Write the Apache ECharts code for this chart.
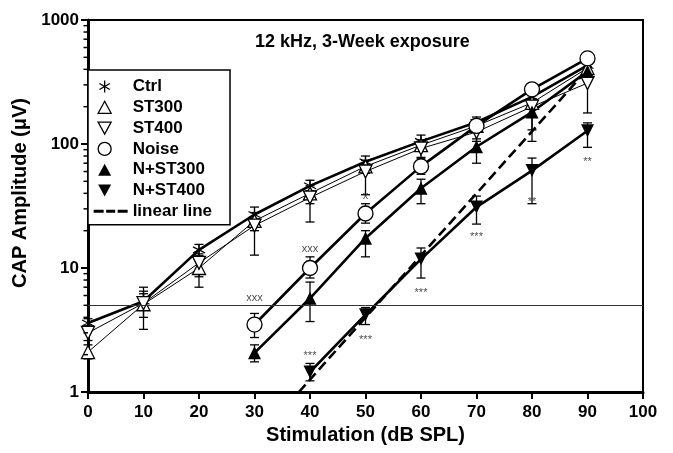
<!DOCTYPE html>
<html>
<head>
<meta charset="utf-8">
<script src="https://cdn.jsdelivr.net/npm/echarts@6/dist/echarts.min.js"></script>
<style>html,body{margin:0;padding:0;background:#fff}#c{width:673px;height:453px}</style>
</head>
<body>
<div id="c"></div>
<script>
// ---- data ----
const xLevels = [0, 10, 20, 30, 40, 50, 60, 70, 80, 90];
const ctrl    = [3.6, 5.4, 14, 27, 46, 72, 105, 150, 240, 430];
const ctrlLo  = [3.4, 4.9, 12.5, 24, 42, 65, 95, 135, 215, 400];
const ctrlHi  = [3.9, 7.0, 15.5, 31, 51, 80, 118, 165, 260, 470];
const st300   = [2.1, 5.1, 10, 24, 40, 66, 98, 140, 215, 410];
const st300Lo = [1.85, 4.0, 7.0, 20, 33, 58, 88, 125, 190, 380];
const st300Hi = [2.4, 6.2, 12.5, 28, 46, 74, 108, 155, 245, 450];
const st400   = [3.0, 5.2, 11, 22, 37, 60, 92, 125, 200, 310];
const st400Lo = [2.6, 3.2, 8.5, 12.7, 23.5, 39, 78, 105, 105, 178];
const st400Hi = [3.4, 6.5, 13, 25, 42, 66, 104, 140, 230, 360];
const noise   = [null, null, null, 3.5, 10, 27.5, 66, 140, 276, 490];
const noiseLo = [null, null, null, 2.75, 8.3, 23, 57, 125, 255, 470];
const noiseHi = [null, null, null, 4.3, 12.3, 33, 76, 158, 300, 515];
const nst300   = [null, null, null, 2.07, 5.7, 17.4, 44, 95, 181, 385];
const nst300Lo = [null, null, null, 1.75, 3.7, 12.3, 33, 70, 130, 340];
const nst300Hi = [null, null, null, 2.4, 7.7, 20, 52, 110, 210, 420];
const nst400   = [null, null, null, null, 1.45, 4.2, 11.8, 31, 61, 128];
const nst400Lo = [null, null, null, null, 1.23, 3.5, 8.3, 22.6, 33, 94];
const nst400Hi = [null, null, null, null, 1.7, 4.8, 14.5, 38, 77, 148];
const linearX = [38, 90];
const linearY = [1, 400];
const refLevel = 5;
const xTicks = [0, 10, 20, 30, 40, 50, 60, 70, 80, 90, 100];
const yTicks = [1, 10, 100, 1000];
const yMinor = [2,3,4,5,6,7,8,9,20,30,40,50,60,70,80,90,200,300,400,500,600,700,800,900];
const annX    = [30, 40, 50, 40, 50, 60, 70, 80, 90];
const annY    = [5.7, 14.2, 38, 1.95, 2.63, 6.3, 17.8, 34, 71.6];
const annText = ['xxx', 'xxx', 'x', '***', '***', '***', '***', '**', '**'];
const seriesNames = ['Ctrl', 'ST300', 'ST400', 'Noise', 'N+ST300', 'N+ST400', 'linear line'];
const titleText = '12 kHz, 3-Week exposure';

const FONT = '"Liberation Sans", Arial, sans-serif';
const pair = (ys) => xLevels.map((x, i) => ys[i] == null ? null : [x, ys[i]]).filter(Boolean);
const errRows = (lo, hi) => xLevels.map((x, i) => lo[i] == null ? null : [x, lo[i], hi[i]]).filter(Boolean);

function errRender(params, api) {
  const x = api.value(0), lo = api.value(1), hi = api.value(2);
  const p1 = api.coord([x, lo]), p2 = api.coord([x, hi]);
  const w = 4.5;
  const style = { stroke: '#000', lineWidth: 1.3, fill: null };
  return { type: 'group', children: [
    { type: 'line', shape: { x1: p1[0], y1: p1[1], x2: p2[0], y2: p2[1] }, style },
    { type: 'line', shape: { x1: p1[0] - w, y1: p1[1], x2: p1[0] + w, y2: p1[1] }, style },
    { type: 'line', shape: { x1: p2[0] - w, y1: p2[1], x2: p2[0] + w, y2: p2[1] }, style }
  ]};
}
function minorRender(params, api) {
  const p = api.coord([0, api.value(0)]);
  return { type: 'line', shape: { x1: p[0] - 4.5, y1: p[1], x2: p[0], y2: p[1] }, style: { stroke: '#000', lineWidth: 1.5 } };
}

const ASTER = 'path://M0,-10L0,10M-8.66,-5L8.66,5M-8.66,5L8.66,-5';
const errSeries = [[ctrlLo, ctrlHi], [st300Lo, st300Hi], [st400Lo, st400Hi], [noiseLo, noiseHi], [nst300Lo, nst300Hi], [nst400Lo, nst400Hi]]
  .map(([lo, hi]) => ({ type: 'custom', renderItem: errRender, data: errRows(lo, hi), z: 1, silent: true, clip: false, encode: { x: 0, y: [1, 2] } }));

const openStyle = { color: '#fff', borderColor: '#000', borderWidth: 1.3 };
const fillStyle = { color: '#000', borderColor: '#000', borderWidth: 0 };

const option = {
  animation: false,
  backgroundColor: '#fff',
  title: { text: titleText, left: 255, top: 33, padding: 0,
    textStyle: { fontFamily: FONT, fontSize: 18, fontWeight: 'bold', color: '#000' } },
  grid: { left: 88, right: 30, top: 20, bottom: 61, show: true, borderColor: '#000', borderWidth: 2 },
  legend: {
    orient: 'vertical', left: 88, top: 70, itemWidth: 34, itemHeight: 14, itemGap: 3.8,
    padding: [8, 18, 5, 5], borderColor: '#000', borderWidth: 1.5, backgroundColor: '#fff',
    selectedMode: false, symbolKeepAspect: true,
    textStyle: { fontFamily: FONT, fontSize: 17, fontWeight: 'bold', color: '#000' },
    data: [
      { name: seriesNames[0], icon: 'path://M0,0M34,14M11,1L11,13M5.8,4L16.2,10M5.8,10L16.2,4', itemStyle: { color: '#000', borderColor: '#000', borderWidth: 1.3 } },
      { name: seriesNames[1], icon: 'path://M0,0M34,14M11,1L17.5,13L4.5,13Z', itemStyle: openStyle },
      { name: seriesNames[2], icon: 'path://M0,0M34,14M4.5,1L17.5,1L11,13Z', itemStyle: openStyle },
      { name: seriesNames[3], icon: 'path://M0,0M34,14M17.5,7A6.5,6.5 0 1 1 4.5,7A6.5,6.5 0 1 1 17.5,7Z', itemStyle: openStyle },
      { name: seriesNames[4], icon: 'path://M0,0M34,14M11,1L17.5,13L4.5,13Z', itemStyle: fillStyle },
      { name: seriesNames[5], icon: 'path://M0,0M34,14M4.5,1L17.5,1L11,13Z', itemStyle: fillStyle },
      { name: seriesNames[6], icon: 'path://M0,0M34,14M0,5.5h10v3h-10zM12.5,5.5h9v3h-9zM24,5.5h10v3h-10z', itemStyle: fillStyle }
    ]
  },
  xAxis: {
    type: 'value', min: xTicks[0], max: xTicks[xTicks.length - 1], interval: 10,
    name: 'Stimulation (dB SPL)', nameLocation: 'middle', nameGap: 33,
    nameTextStyle: { fontFamily: FONT, fontSize: 20, fontWeight: 'bold', color: '#000' },
    axisLine: { lineStyle: { color: '#000', width: 3 } },
    axisTick: { inside: false, length: 7, lineStyle: { color: '#000', width: 2 } },
    axisLabel: { margin: 12, fontFamily: FONT, fontSize: 17, fontWeight: 'bold', color: '#000' },
    splitLine: { show: false }
  },
  yAxis: {
    type: 'log', logBase: 10, min: yTicks[0], max: yTicks[yTicks.length - 1],
    name: 'CAP Amplitude (\u03bcV)', nameLocation: 'middle', nameGap: 56, nameRotate: 90,
    nameTextStyle: { fontFamily: FONT, fontSize: 20, fontWeight: 'bold', color: '#000', padding: [0, 0, 0, 26] },
    axisLine: { lineStyle: { color: '#000', width: 3 } },
    axisTick: { inside: false, length: 7, lineStyle: { color: '#000', width: 2 } },
    axisLabel: { margin: 9, fontFamily: FONT, fontSize: 17, fontWeight: 'bold', color: '#000',
      formatter: (v) => String(Math.round(v)) },
    splitLine: { show: false }
  },
  series: [
    ...errSeries,
    { type: 'custom', renderItem: minorRender, data: yMinor.map(v => [v]), encode: { y: 0 }, clip: false, silent: true, z: 5 },
    { name: seriesNames[0], type: 'line', data: pair(ctrl), symbol: ASTER, symbolSize: 12, z: 3,
      lineStyle: { color: '#000', width: 2.6 }, itemStyle: { color: '#000', borderColor: '#000', borderWidth: 1.2 },
      markLine: { silent: true, symbol: 'none', label: { show: false }, lineStyle: { color: '#333', width: 1, type: 'solid' }, data: [{ yAxis: refLevel }] } },
    { name: seriesNames[1], type: 'line', data: pair(st300), symbol: 'triangle', symbolSize: 13, z: 3,
      lineStyle: { color: '#000', width: 1 }, itemStyle: openStyle },
    { name: seriesNames[2], type: 'line', data: pair(st400), symbol: 'triangle', symbolRotate: 180, symbolSize: 13, z: 3,
      lineStyle: { color: '#000', width: 1 }, itemStyle: openStyle },
    { name: seriesNames[3], type: 'line', data: pair(noise), symbol: 'circle', symbolSize: 15, z: 3,
      lineStyle: { color: '#000', width: 2.6 }, itemStyle: openStyle },
    { name: seriesNames[4], type: 'line', data: pair(nst300), symbol: 'triangle', symbolSize: 13, z: 3,
      lineStyle: { color: '#000', width: 2.6 }, itemStyle: fillStyle },
    { name: seriesNames[5], type: 'line', data: pair(nst400), symbol: 'triangle', symbolRotate: 180, symbolSize: 13, z: 3,
      lineStyle: { color: '#000', width: 2.6 }, itemStyle: fillStyle },
    { name: seriesNames[6], type: 'line', data: linearX.map((x, i) => [x, linearY[i]]), symbol: 'none', z: 3,
      lineStyle: { color: '#000', width: 2.6, type: [10, 5] }, itemStyle: { color: '#000' } },
    { type: 'scatter', symbolSize: 1, itemStyle: { color: 'rgba(0,0,0,0)' }, z: 4, silent: true,
      data: annX.map((x, i) => ({ value: [x, annY[i]], label: { formatter: annText[i] } })),
      label: { show: true, position: 'inside', fontFamily: FONT, fontSize: 11, color: '#222' } }
  ]
};
echarts.init(document.getElementById('c'), null, { renderer: 'canvas' }).setOption(option);
</script>
</body>
</html>
